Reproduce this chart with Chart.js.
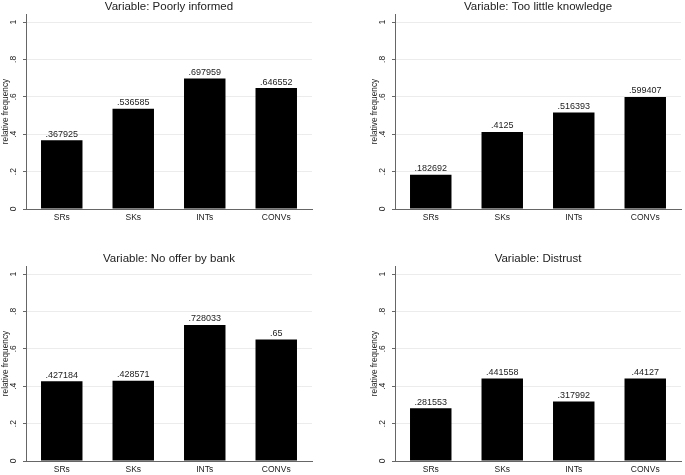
<!DOCTYPE html>
<html>
<head>
<meta charset="utf-8">
<script src="https://cdn.jsdelivr.net/npm/chart.js@4.4.0/dist/chart.umd.min.js"></script>
<style>
  html, body { margin: 0; padding: 0; background: #fff; }
  body { width: 685px; height: 475px; overflow: hidden; position: relative; }
  .panel { position: absolute; width: 316px; height: 223px; }
</style>
</head>
<body>
<div class="panel" style="left:0;top:0"><canvas id="c1" width="316" height="223"></canvas></div>
<div class="panel" style="left:369px;top:0"><canvas id="c2" width="316" height="223"></canvas></div>
<div class="panel" style="left:0;top:252px"><canvas id="c3" width="316" height="223"></canvas></div>
<div class="panel" style="left:369px;top:252px"><canvas id="c4" width="316" height="223"></canvas></div>
<script>
// données
const categories = ['SRs', 'SKs', 'INTs', 'CONVs'];
const titles = [
    'Variable: Poorly informed',
    'Variable: Too little knowledge',
    'Variable: No offer by bank',
    'Variable: Distrust'
];
const poorlyInformed = [0.367925, 0.536585, 0.697959, 0.646552];
const tooLittleKnowledge = [0.182692, 0.4125, 0.516393, 0.599407];
const noOfferByBank = [0.427184, 0.428571, 0.728033, 0.65];
const distrust = [0.281553, 0.441558, 0.317992, 0.44127];
const yTicks = [0, 0.2, 0.4, 0.6, 0.8, 1];
const yTickLabels = ['0', '.2', '.4', '.6', '.8', '1'];
const yTitle = 'relative frequency';

const FONT = "Arial, 'Liberation Sans', sans-serif";

// format Stata : pas de zéro devant la virgule
function stataFmt(v) {
    return String(v).replace(/^0\./, '.');
}

// titre, étiquettes de l'axe y (tournées) et valeurs au-dessus des barres
const stataLabels = {
    id: 'stataLabels',
    afterDraw(chart, args, opts) {
        const ctx = chart.ctx;
        const area = chart.chartArea;
        const y = chart.scales.y;
        ctx.save();
        ctx.fillStyle = '#222';

        ctx.font = '11.5px ' + FONT;
        ctx.textAlign = 'center';
        ctx.textBaseline = 'alphabetic';
        ctx.fillText(opts.title, (area.left + area.right) / 2, 9.5);

        ctx.font = '8.5px ' + FONT;
        yTicks.forEach((v, i) => {
            ctx.save();
            ctx.translate(14, y.getPixelForValue(v));
            ctx.rotate(-Math.PI / 2);
            ctx.textAlign = 'center';
            ctx.textBaseline = 'middle';
            ctx.fillText(yTickLabels[i], 0, 0);
            ctx.restore();
        });

        ctx.font = '9px ' + FONT;
        ctx.textAlign = 'center';
        ctx.textBaseline = 'alphabetic';
        const meta = chart.getDatasetMeta(0);
        meta.data.forEach((bar, i) => {
            ctx.fillText(stataFmt(chart.data.datasets[0].data[i]), bar.x, bar.y - 3.5);
        });
        ctx.restore();
    }
};

function makeChart(id, title, values) {
    const ctx = document.getElementById(id).getContext('2d');
    return new Chart(ctx, {
        type: 'bar',
        data: {
            labels: categories,
            datasets: [{
                data: values,
                backgroundColor: '#000',
                borderWidth: 0,
                categoryPercentage: 1,
                barPercentage: 0.58
            }]
        },
        options: {
            responsive: false,
            animation: false,
            events: [],
            layout: { padding: { top: 14, right: 4, bottom: 0, left: 0 } },
            plugins: {
                legend: { display: false },
                tooltip: { enabled: false },
                stataLabels: { title: title }
            },
            scales: {
                x: {
                    afterFit(scale) { scale.height = 14; },
                    grid: { display: false, drawTicks: false, tickLength: 0 },
                    border: { display: true, color: '#666', width: 1 },
                    ticks: { color: '#222', padding: 4, font: { family: FONT, size: 8.5 } }
                },
                y: {
                    min: 0,
                    max: 1.043,
                    afterFit(scale) { scale.width = 26; },
                    afterBuildTicks(scale) { scale.ticks = yTicks.map(v => ({ value: v })); },
                    ticks: { display: false },
                    grid: {
                        color: (c) => c.tick && c.tick.value === 0 ? 'rgba(0,0,0,0)' : '#ececec',
                        tickColor: '#666',
                        tickLength: 3,
                        lineWidth: 1
                    },
                    border: { display: true, color: '#666', width: 1 },
                    title: {
                        display: true,
                        text: yTitle,
                        color: '#222',
                        padding: { top: 0.5, bottom: 0 },
                        font: { family: FONT, size: 8.3 }
                    }
                }
            }
        },
        plugins: [stataLabels]
    });
}

makeChart('c1', titles[0], poorlyInformed);
makeChart('c2', titles[1], tooLittleKnowledge);
makeChart('c3', titles[2], noOfferByBank);
makeChart('c4', titles[3], distrust);
</script>
</body>
</html>
